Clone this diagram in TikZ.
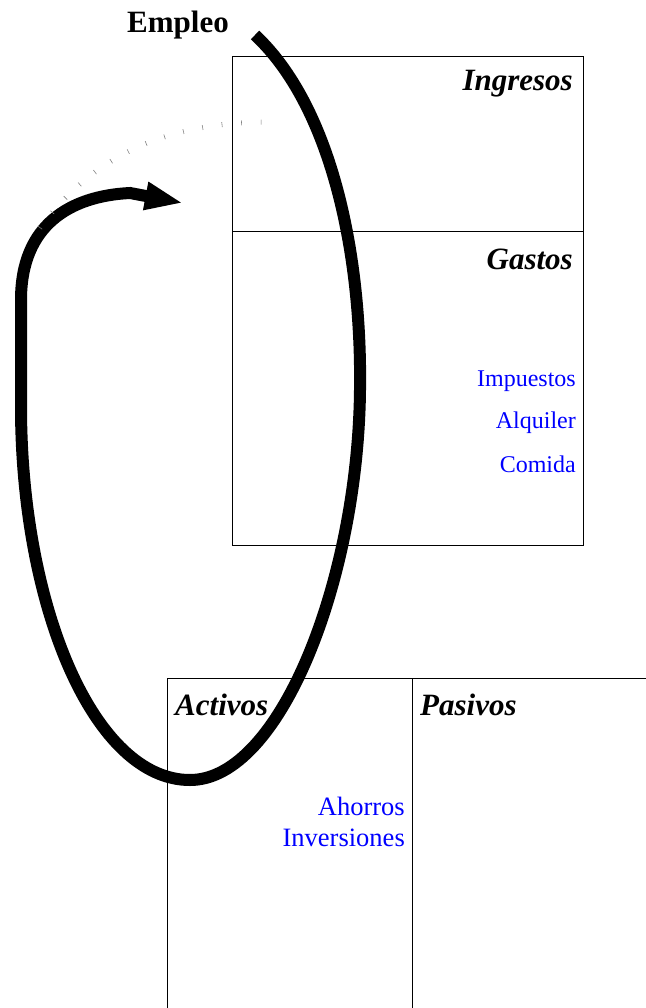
\documentclass[tikz,border=0pt]{standalone}
\usepackage{fontspec}
\setmainfont{Liberation Serif}
\usetikzlibrary{arrows.meta}
\begin{document}
\begin{tikzpicture}[x=1pt,y=-1pt,
  titulo/.style={font=\fontsize{31}{36}\selectfont\bfseries\itshape,inner sep=0pt},
  partida/.style={font=\fontsize{24}{28}\selectfont,text=blue,inner sep=0pt,anchor=base east},
  caja/.style={draw,line width=0.9pt}]
  \useasboundingbox (0,0) rectangle (645,1008);
  % estado de resultados
  \draw[caja] (232,56) rectangle (583,545);
  \draw[caja] (232,231) -- (583,231);
  \node[titulo,anchor=base east] (ingresos) at (573,91) {Ingresos};
  \node[titulo,anchor=base east] (gastos) at (573,269) {Gastos};
  \node[partida] (impuestos) at (576,386) {Impuestos};
  \node[partida] (alquiler) at (576,428) {Alquiler};
  \node[partida] (comida) at (576,472) {Comida};
  % balance
  \draw[caja] (167,1010) -- (167,678) -- (648,678);
  \draw[caja] (412,678) -- (412,1010);
  \node[titulo,anchor=base west] (activos) at (175,715) {Activos};
  \node[titulo,anchor=base west] (pasivos) at (420,715) {Pasivos};
  \node[partida,font=\fontsize{26.5}{30}\selectfont] (ahorros) at (405,815) {Ahorros};
  \node[partida,font=\fontsize{26.5}{30}\selectfont] (inversiones) at (405,846) {Inversiones};
  % empleo
  \node[font=\fontsize{31}{36}\selectfont\bfseries,inner sep=0pt,anchor=base west] (empleo) at (127,33) {Empleo};
  \coordinate (inicio) at (255,35);
  \coordinate (punta) at (183,203);
  \draw[line width=12pt,-{Triangle[length=38pt,width=26pt]}] (inicio)
    .. controls (330,105) and (362,250) .. (360,390)
    .. controls (358,580) and (280,780) .. (190,780)
    .. controls (95,780) and (22,610) .. (21,410)
    -- (21,300) .. controls (21,225) and (70,196) .. (130,193) -- (punta);
  \draw[gray,line width=5pt,dash pattern=on 0.6pt off 19pt] (40,228)
    .. controls (90,160) and (160,122) .. (270,122);
\end{tikzpicture}
\end{document}
